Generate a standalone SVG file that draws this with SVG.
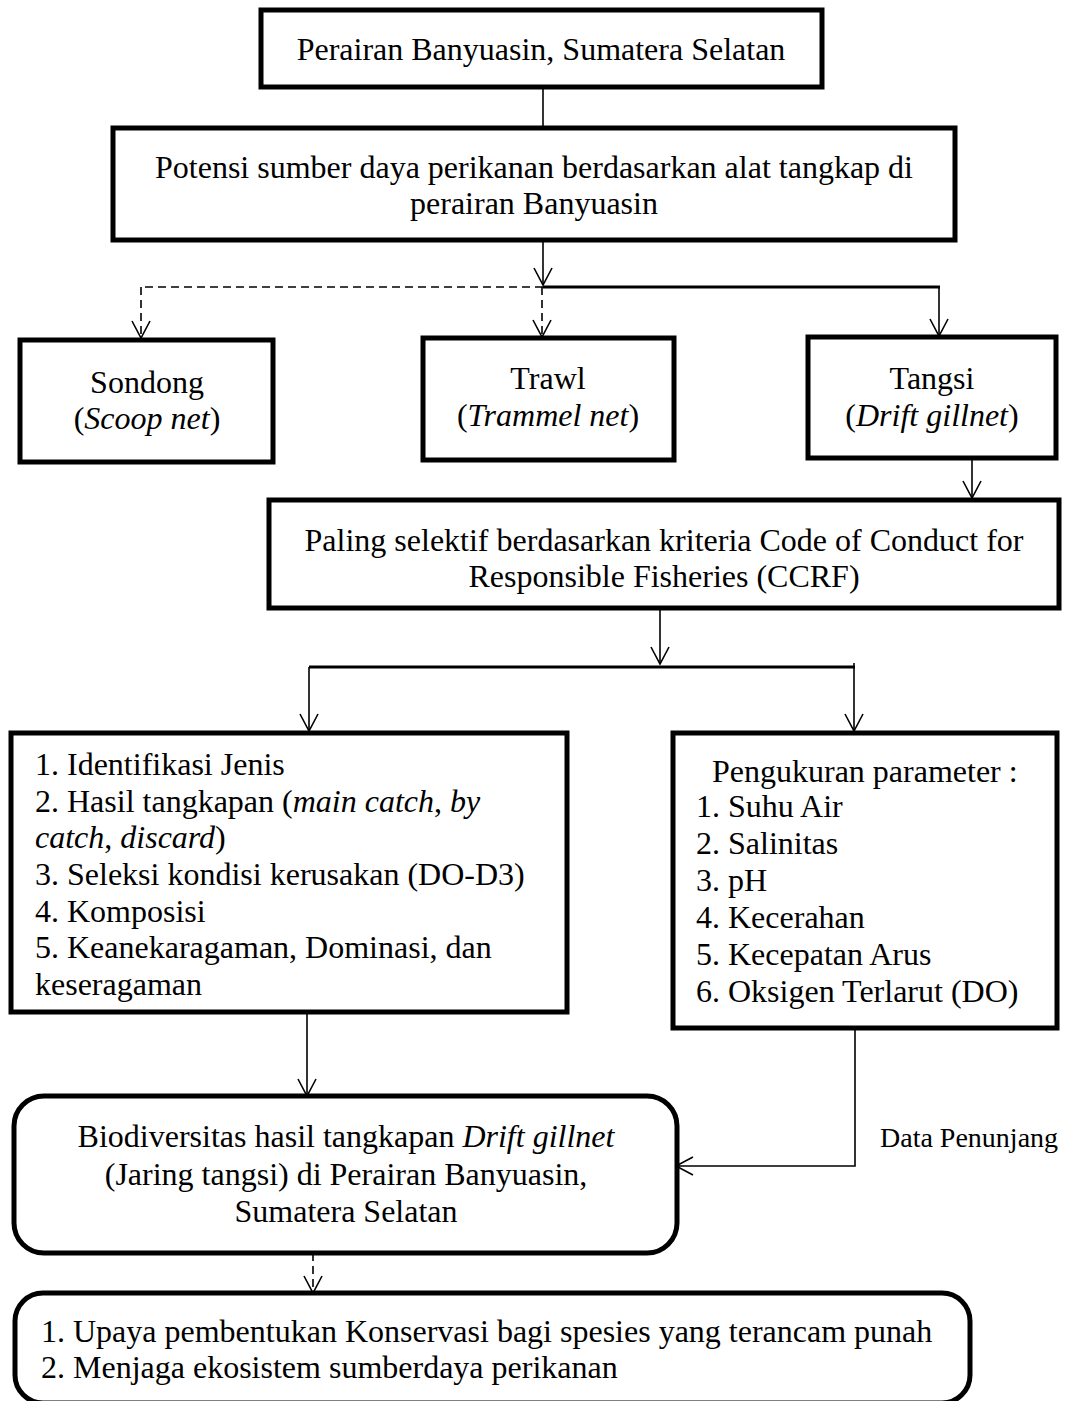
<svg xmlns="http://www.w3.org/2000/svg" width="1073" height="1401" viewBox="0 0 1073 1401">
<style>
.box{fill:#fff;stroke:#000;stroke-width:5}
.t{font-family:"Liberation Serif","Times New Roman",serif;font-size:32px;fill:#000}
.c{text-anchor:middle}
.i{font-style:italic}
.ln{fill:none;stroke:#000;stroke-width:1.6}
.thick{fill:none;stroke:#000;stroke-width:3.2}
.dash{fill:none;stroke:#000;stroke-width:1.6;stroke-dasharray:8 5}
</style>
<defs>
<marker id="arr" markerUnits="userSpaceOnUse" markerWidth="22" markerHeight="22" viewBox="0 0 22 22" refX="19" refY="11" orient="auto">
<path d="M2,2 L19,11 L2,20" fill="none" stroke="#000" stroke-width="1.6"/>
</marker>
</defs>
<rect width="1073" height="1401" fill="#fff"/>
<g id="connectors">
<path class="ln" d="M543,87 V128"/>
<path class="ln" d="M543,240 V285" marker-end="url(#arr)"/>
<path class="dash" d="M543,287 H141"/>
<path class="thick" d="M543,287 H940"/>
<path class="dash" d="M141,287 V338" marker-end="url(#arr)"/>
<path class="dash" d="M542,287 V337" marker-end="url(#arr)"/>
<path class="ln" d="M939,287 V336" marker-end="url(#arr)"/>
<path class="ln" d="M972,458 V498" marker-end="url(#arr)"/>
<path class="ln" d="M660,608 V664" marker-end="url(#arr)"/>
<path class="thick" d="M309,667 H855"/>
<path class="ln" d="M309,667 V731" marker-end="url(#arr)"/>
<path class="ln" d="M854,663 V731" marker-end="url(#arr)"/>
<path class="ln" d="M307,1012 V1096" marker-end="url(#arr)"/>
<path class="ln" d="M855,1028 V1166 H676" marker-end="url(#arr)"/>
<path class="dash" d="M313,1253 V1293" marker-end="url(#arr)"/>
</g>
<g id="n1">
<rect class="box" x="261" y="10" width="561" height="77"/>
<text class="t c" x="541" y="60">Perairan Banyuasin, Sumatera Selatan</text>
</g>
<g id="n2">
<rect class="box" x="113" y="128" width="842" height="112"/>
<text class="t c" x="534" y="178">Potensi sumber daya perikanan berdasarkan alat tangkap di</text>
<text class="t c" x="534" y="214">perairan Banyuasin</text>
</g>
<g id="n3">
<rect class="box" x="20" y="340" width="253" height="122"/>
<text class="t c" x="147" y="393">Sondong</text>
<text class="t c" x="147" y="429">(<tspan class="i">Scoop net</tspan>)</text>
</g>
<g id="n4">
<rect class="box" x="423" y="338" width="251" height="122"/>
<text class="t c" x="548" y="389">Trawl</text>
<text class="t c" x="548" y="426">(<tspan class="i">Trammel net</tspan>)</text>
</g>
<g id="n5">
<rect class="box" x="808" y="337" width="248" height="121"/>
<text class="t c" x="932" y="389">Tangsi</text>
<text class="t c" x="932" y="426">(<tspan class="i">Drift gillnet</tspan>)</text>
</g>
<g id="n6">
<rect class="box" x="269" y="500" width="790" height="108"/>
<text class="t c" x="664" y="551">Paling selektif berdasarkan kriteria Code of Conduct for</text>
<text class="t c" x="664" y="587">Responsible Fisheries (CCRF)</text>
</g>
<g id="n7">
<rect class="box" x="11" y="733" width="556" height="279"/>
<text class="t" x="35" y="775">1. Identifikasi Jenis</text>
<text class="t" x="35" y="812">2. Hasil tangkapan (<tspan class="i">main catch</tspan>, <tspan class="i">by</tspan></text>
<text class="t" x="35" y="848"><tspan class="i">catch</tspan>, <tspan class="i">discard</tspan>)</text>
<text class="t" x="35" y="885">3. Seleksi kondisi kerusakan (DO-D3)</text>
<text class="t" x="35" y="922">4. Komposisi</text>
<text class="t" x="35" y="958">5. Keanekaragaman, Dominasi, dan</text>
<text class="t" x="35" y="995">keseragaman</text>
</g>
<g id="n8">
<rect class="box" x="673" y="733" width="384" height="295"/>
<text class="t" x="712" y="782">Pengukuran parameter :</text>
<text class="t" x="696" y="817">1. Suhu Air</text>
<text class="t" x="696" y="854">2. Salinitas</text>
<text class="t" x="696" y="891">3. pH</text>
<text class="t" x="696" y="928">4. Kecerahan</text>
<text class="t" x="696" y="965">5. Kecepatan Arus</text>
<text class="t" x="696" y="1002">6. Oksigen Terlarut (DO)</text>
</g>
<g id="n9">
<rect class="box" x="14" y="1096" width="663" height="157" rx="30" ry="30"/>
<text class="t c" x="346" y="1147">Biodiversitas hasil tangkapan <tspan class="i">Drift gillnet</tspan></text>
<text class="t c" x="346" y="1185">(Jaring tangsi) di Perairan Banyuasin,</text>
<text class="t c" x="346" y="1222">Sumatera Selatan</text>
</g>
<g id="n10">
<rect class="box" x="15" y="1293" width="955" height="110" rx="28" ry="28"/>
<text class="t" x="41" y="1342">1. Upaya pembentukan Konservasi bagi spesies yang terancam punah</text>
<text class="t" x="41" y="1378">2. Menjaga ekosistem sumberdaya perikanan</text>
</g>
<g id="label">
<text class="t" x="880" y="1147" style="font-size:28px">Data Penunjang</text>
</g>
</svg>
